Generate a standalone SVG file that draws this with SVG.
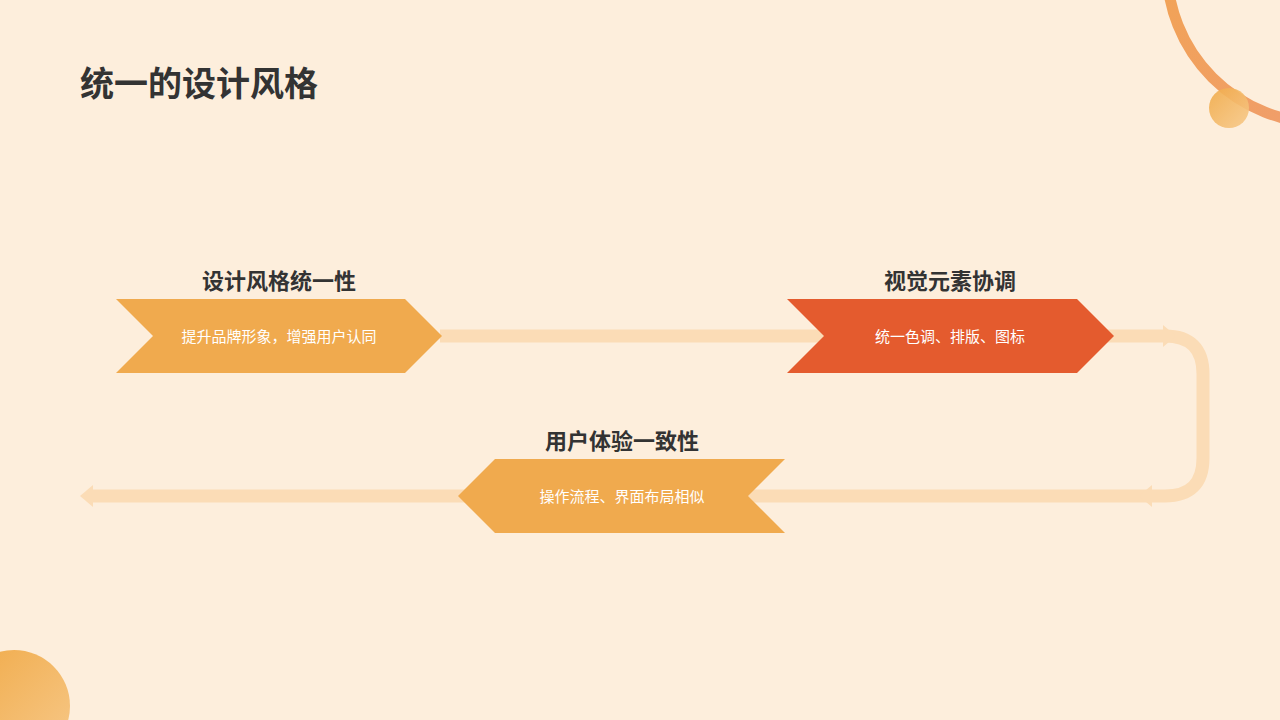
<svg xmlns="http://www.w3.org/2000/svg" width="1280" height="720" viewBox="0 0 1280 720">
<defs>
<style>
.t{font-family:"Noto Sans CJK SC","Liberation Sans",sans-serif;font-weight:bold;fill:#333;text-anchor:middle}
.s{font-family:"Noto Sans CJK SC","Liberation Sans",sans-serif;font-size:15px;fill:#fff;text-anchor:middle}
.c{fill:none;stroke:#fbdcb6;stroke-width:13}
</style>
<linearGradient id="ga" x1="0" y1="0" x2="1" y2="1"><stop offset="0" stop-color="#f2a64a"/><stop offset="1" stop-color="#ef9a78"/></linearGradient>
<linearGradient id="gb" x1="0" y1="0" x2="1" y2="1"><stop offset="0" stop-color="#f0aa48"/><stop offset="1" stop-color="#f7c98a"/></linearGradient>
</defs>
<rect width="1280" height="720" fill="#fdeedc"/>
<circle cx="1322" cy="-32" r="155" fill="none" stroke="url(#ga)" stroke-width="11"/>
<circle cx="1229" cy="108" r="20" fill="url(#gb)" opacity="0.9"/>
<circle cx="14" cy="706" r="56" fill="url(#gb)"/>
<text x="80" y="96" class="t" style="font-size:34px;text-anchor:start">统一的设计风格</text>
<g id="connectors">
<path class="c" d="M440 336 H1165 Q1203 336 1203 374 V458 Q1203 496 1165 496 H90"/>
<path d="M1163 325 L1176 336 L1163 347 Z" fill="#fbdcb6"/>
<path d="M1152 485 L1139 496 L1152 507 Z" fill="#fbdcb6"/>
<path d="M93 485 L80 496 L93 507 Z" fill="#fbdcb6"/>
</g>
<g id="node1">
<polygon points="116,299 405,299 442,336 405,373 116,373 153,336" fill="#f0aa4e"/>
<text x="279" y="289" class="t" style="font-size:22px">设计风格统一性</text>
<text x="279" y="342" class="s">提升品牌形象，增强用户认同</text>
</g>
<g id="node2">
<polygon points="787,299 1077,299 1114,336 1077,373 787,373 824,336" fill="#e45b2e"/>
<text x="950" y="289" class="t" style="font-size:22px">视觉元素协调</text>
<text x="950" y="342" class="s">统一色调、排版、图标</text>
</g>
<g id="node3">
<polygon points="495,459 785,459 748,496 785,533 495,533 458,496" fill="#f0aa4e"/>
<text x="622" y="449" class="t" style="font-size:22px">用户体验一致性</text>
<text x="622" y="502" class="s">操作流程、界面布局相似</text>
</g>
</svg>
